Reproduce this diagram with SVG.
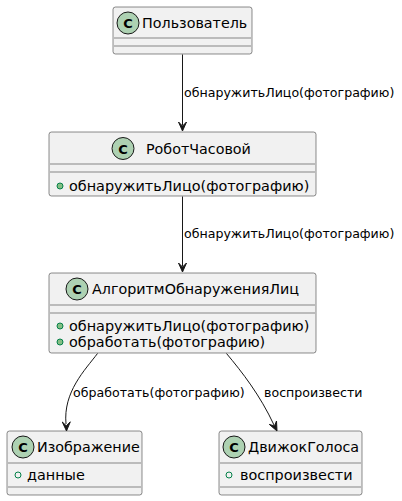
<svg xmlns="http://www.w3.org/2000/svg" width="402" height="501" viewBox="0 0 402 501">
<defs>
<style>
.box{fill:#F1F1F1;stroke:#181818;stroke-width:0.5}
.sep{stroke:#181818;stroke-width:0.5}
.ic{fill:#ADD1B2;stroke:#181818;stroke-width:1}
.icl{font-family:"DejaVu Sans",sans-serif;font-size:13px;font-weight:bold;fill:#000;text-anchor:middle}
.name{font-family:"DejaVu Sans",sans-serif;font-size:14.3px;fill:#000}
.mem{font-family:"DejaVu Sans",sans-serif;font-size:14.4px;fill:#000}
.lbl{font-family:"DejaVu Sans",sans-serif;font-size:12.6px;fill:#000}
.pm{fill:#84BE84;stroke:#038048;stroke-width:1}
.pf{fill:none;stroke:#038048;stroke-width:1}
.edge{fill:none;stroke:#181818;stroke-width:1}
.head{fill:#181818;stroke:#181818;stroke-width:1}
</style>
</defs>
<g id="user">
<rect class="box" x="113" y="7" width="139" height="47" rx="2.5"/>
<circle class="ic" cx="128" cy="23" r="11"/>
<text class="icl" x="128" y="28">C</text>
<text class="name" x="142" y="28">Пользователь</text>
<line class="sep" x1="114" y1="38" x2="251" y2="38"/>
<line class="sep" x1="114" y1="46" x2="251" y2="46"/>
</g>
<g id="robot">
<rect class="box" x="49" y="132" width="267" height="64" rx="2.5"/>
<circle class="ic" cx="123" cy="148.5" r="11"/>
<text class="icl" x="123" y="153.5">C</text>
<text class="name" x="146" y="153.5">РоботЧасовой</text>
<line class="sep" x1="50" y1="164" x2="315" y2="164"/>
<line class="sep" x1="50" y1="172" x2="315" y2="172"/>
<circle class="pm" cx="60" cy="186" r="3"/>
<text class="mem" x="69" y="190.5">обнаружитьЛицо(фотографию)</text>
</g>
<g id="algo">
<rect class="box" x="49" y="273" width="267" height="80" rx="2.5"/>
<circle class="ic" cx="77" cy="289" r="11"/>
<text class="icl" x="77" y="294">C</text>
<text class="name" x="92" y="294">АлгоритмОбнаруженияЛиц</text>
<line class="sep" x1="50" y1="305" x2="315" y2="305"/>
<line class="sep" x1="50" y1="313" x2="315" y2="313"/>
<circle class="pm" cx="60" cy="326" r="3"/>
<text class="mem" x="69" y="330.5">обнаружитьЛицо(фотографию)</text>
<circle class="pm" cx="60" cy="342" r="3"/>
<text class="mem" x="69" y="346.5">обработать(фотографию)</text>
</g>
<g id="image">
<rect class="box" x="7" y="431" width="135" height="64" rx="2.5"/>
<circle class="ic" cx="23" cy="447" r="11"/>
<text class="icl" x="23" y="452">C</text>
<text class="name" x="37" y="452">Изображение</text>
<line class="sep" x1="8" y1="463" x2="141" y2="463"/>
<circle class="pf" cx="18" cy="475" r="3"/>
<text class="mem" x="27" y="479.5">данные</text>
<line class="sep" x1="8" y1="487" x2="141" y2="487"/>
</g>
<g id="voice">
<rect class="box" x="219" y="431" width="143" height="64" rx="2.5"/>
<circle class="ic" cx="234" cy="447" r="11"/>
<text class="icl" x="234" y="452">C</text>
<text class="name" x="248" y="452">ДвижокГолоса</text>
<line class="sep" x1="220" y1="463" x2="361" y2="463"/>
<circle class="pf" cx="229" cy="475" r="3"/>
<text class="mem" x="240" y="479.5">воспроизвести</text>
<line class="sep" x1="220" y1="487" x2="361" y2="487"/>
</g>
<g id="connectors">
<path class="edge" d="M182.5,54.5 L182.5,125"/>
<polygon class="head" points="182.5,131 186.5,122 182.5,126 178.5,122"/>
<text class="lbl" x="184" y="97">обнаружитьЛицо(фотографию)</text>
<path class="edge" d="M182.5,196.5 L182.5,266"/>
<polygon class="head" points="182.5,272 186.5,263 182.5,267 178.5,263"/>
<text class="lbl" x="184" y="238">обнаружитьЛицо(фотографию)</text>
<path class="edge" d="M97.5,353.5 C85,370 63,392 66,424"/>
<polygon class="head" points="66.5,431 70.3,421.8 66.3,425.8 62.3,422"/>
<text class="lbl" x="73" y="397">обработать(фотографию)</text>
<path class="edge" d="M226.5,353.5 C242,372 260,395 274,425"/>
<polygon class="head" points="277,431 276.5,421 274.5,426 269.3,424.4"/>
<text class="lbl" x="264" y="397">воспроизвести</text>
</g>
</svg>
